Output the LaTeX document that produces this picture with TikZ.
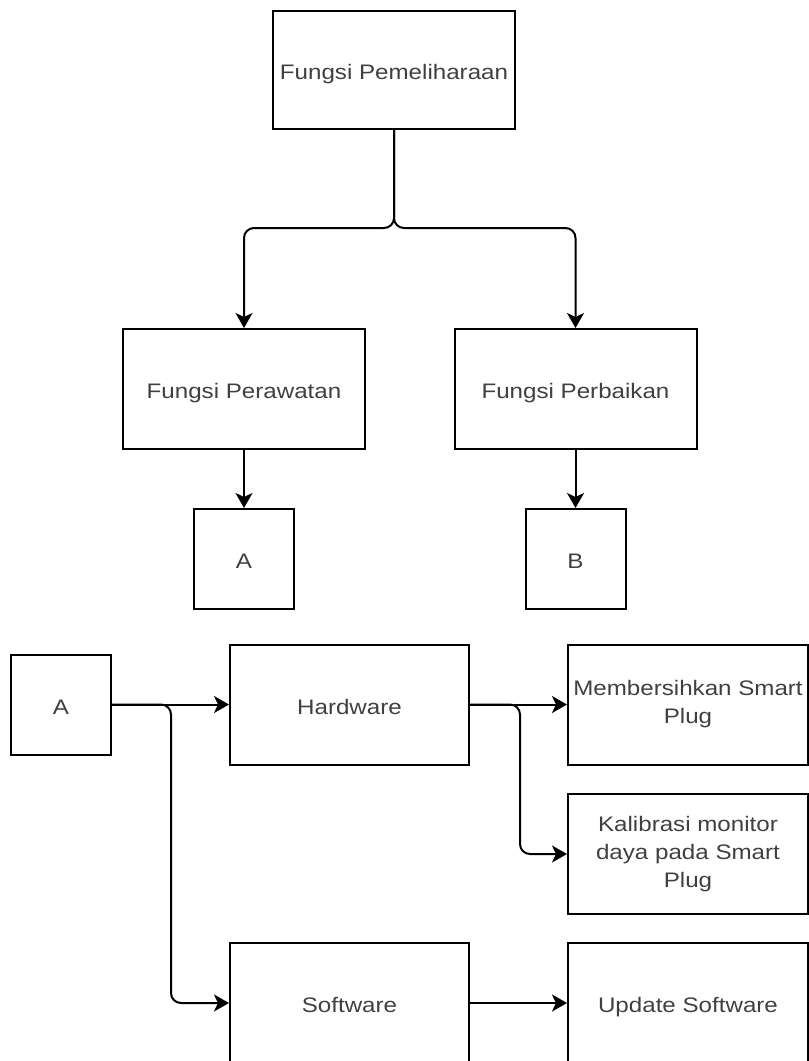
\documentclass[tikz,border=0pt]{standalone}
\usepackage{fontspec}
\setmainfont{Liberation Sans}[FakeStretch=1.15]
\usetikzlibrary{arrows.meta,positioning}
\tikzstyle{block} = [draw,line width=2pt,minimum width=242pt,minimum height=120pt,inner sep=0pt,align=center,text=black!75,font=\fontsize{21}{28}\selectfont]
\tikzstyle{oneline} = [block,text height=22pt,text depth=3pt]
\tikzstyle{smallbox} = [oneline,minimum width=100pt,minimum height=100pt]
\tikzstyle{link} = [line width=2pt,rounded corners=10pt,arrows={-Stealth[length=15pt,width=17pt,inset=4pt]}]

\begin{document}
\begin{tikzpicture}[x=1pt,y=-1pt]
		\clip (0,0) rectangle (809,1061);

		\node (pemeliharaan)[oneline,minimum height=118pt] at (394,70) {Fungsi Pemeliharaan};
		\node (perawatan)[oneline] at (244,389) {Fungsi Perawatan};
		\node (perbaikan)[oneline] at (575.5,389) {Fungsi Perbaikan};
		\node (a1)[smallbox] at (244,559) {A};
		\node (b1)[smallbox] at (575.5,559) {B};

		\node (a2)[smallbox] at (61,704.5) {A};
		\node (hardware)[oneline,minimum width=239pt] at (349.5,704.5) {Hardware};
		\node (software)[oneline,minimum width=239pt] at (349.5,1003) {Software};
		\node (bersih)[block,minimum width=240pt] at (688,704.5) {Membersihkan Smart\\Plug};
		\node (kalibrasi)[block,minimum width=240pt] at (688,854) {Kalibrasi monitor\\daya pada Smart\\Plug};
		\node (update)[oneline,minimum width=240pt] at (688,1003) {Update Software};

		\coordinate (jt) at (394,228);
		\coordinate (ja) at (171,704.5);
		\coordinate (jh) at (520,704.5);

		\draw[link] (pemeliharaan.south) -- (jt) -| (perawatan.north);
		\draw[link] (pemeliharaan.south) -- (jt) -| (perbaikan.north);
		\draw[link] (perawatan) -- (a1);
		\draw[link] (perbaikan) -- (b1);

		\draw[link] (a2) -- (hardware);
		\draw[link] (a2.east) -- (ja) |- (software.west);
		\draw[link] (hardware) -- (bersih);
		\draw[link] (hardware.east) -- (jh) |- (kalibrasi.west);
		\draw[link] (software) -- (update);
	\end{tikzpicture}
\end{document}
